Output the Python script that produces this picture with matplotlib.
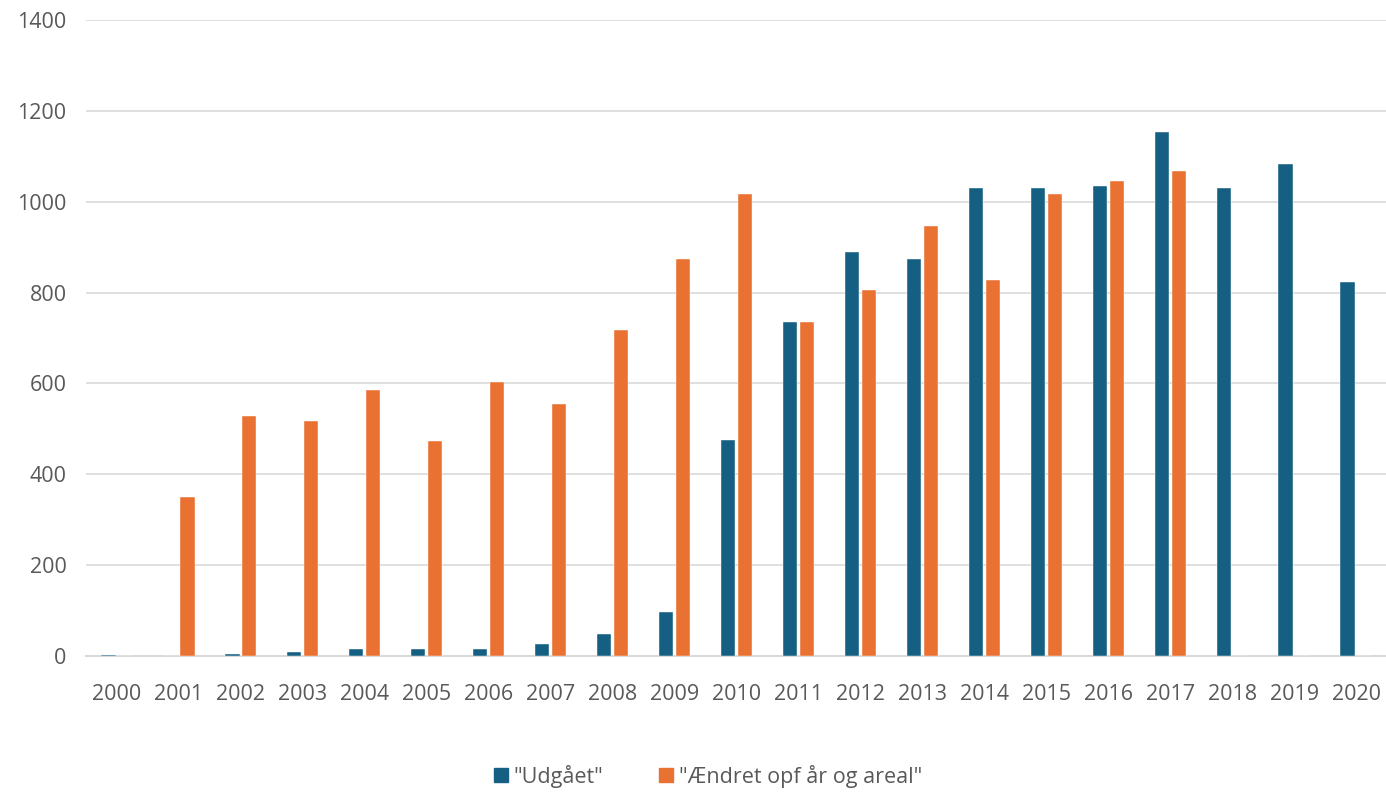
import numpy as np
import matplotlib
matplotlib.use("Agg")
import matplotlib.pyplot as plt
from matplotlib.patches import Patch

plt.rcParams['font.family'] = ['Open Sans', 'DejaVu Sans']

# data
aar = [str(a) for a in range(2000, 2021)]
udgaaet = [3, 1, 5, 8, 15, 15, 16, 26, 48, 97, 475, 735, 889, 873,
           1030, 1030, 1034, 1153, 1030, 1082, 823]
aendret = [0, 350, 528, 517, 585, 473, 603, 554, 717, 873, 1016, 735,
           805, 946, 827, 1016, 1045, 1067, 0, 0, 0]

blaa = '#156082'
orange = '#E97132'
tekst = '#595959'
gitter = '#D9D9D9'

fig = plt.figure(figsize=(13.86, 7.92), dpi=100)
ax = fig.add_axes([86/1386, 1 - 656/792, (1387-86)/1386, (656-20)/792])

x = np.arange(len(aar))
bredde = 0.23
ax.bar(x - 0.137, udgaaet, bredde, color=blaa, edgecolor='white', linewidth=0.3, zorder=3)
ax.bar(x + 0.137, aendret, bredde, color=orange, edgecolor='white', linewidth=0.3, zorder=3)

ax.set_xlim(-0.5, len(aar) - 0.5)
ax.set_ylim(0, 1400)
ax.set_yticks(range(0, 1401, 200))
ax.set_xticks(x)
ax.set_xticklabels(aar)
ax.tick_params(axis='both', length=0, labelsize=15.5, colors=tekst)
ax.tick_params(axis='x', pad=20)
ax.tick_params(axis='y', pad=14)
ax.grid(axis='y', color=gitter, linewidth=1.2, zorder=0)
for s in ['top', 'right', 'left']:
    ax.spines[s].set_visible(False)
ax.spines['bottom'].set_color(gitter)
ax.spines['bottom'].set_linewidth(1.5)
ax.spines['bottom'].set_zorder(2)

handles = [Patch(color=blaa, label='"Udgået"'),
           Patch(color=orange, label='"Ændret opf år og areal"')]
fig.legend(handles=handles, loc='center', bbox_to_anchor=(708/1386, 1 - 776/792),
           ncol=2, frameon=False, fontsize=15.5, labelcolor=tekst,
           handlelength=0.65, handleheight=0.65, handletextpad=0.25, columnspacing=2.6)

fig.savefig('out.png', dpi=100)
